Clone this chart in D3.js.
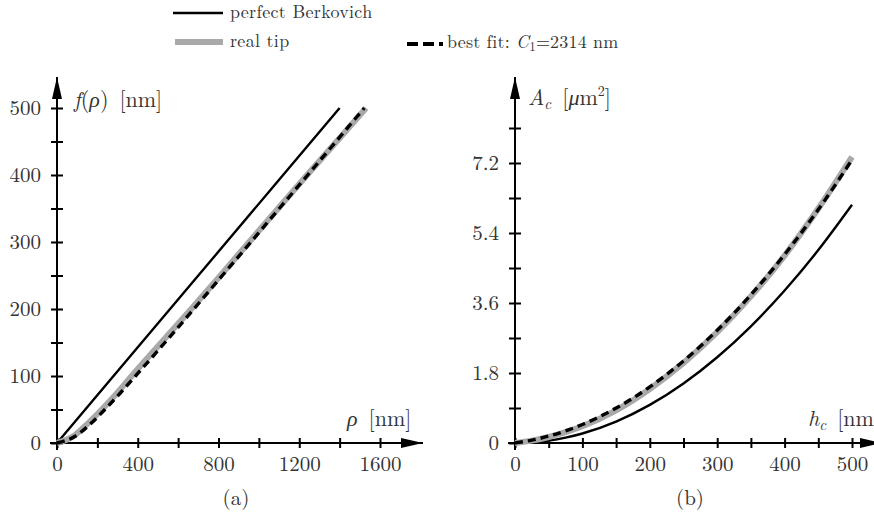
<!DOCTYPE html>
<html>
<head>
<meta charset="utf-8">
<script src="https://cdn.jsdelivr.net/npm/d3@7"></script>
<style>
  html, body { margin: 0; padding: 0; background: #fff; }
  svg { display: block; }
</style>
</head>
<body>
<svg id="chart" width="874" height="521"></svg>
<script>
// ---- (a) tip shape function f(rho) ----
const rhoTickValues = [0, 200, 400, 600, 800, 1000, 1200, 1400, 1600];
const rhoTickLabels = ["0", "", "400", "", "800", "", "1200", "", "1600"];
const fTickValues = [0, 50, 100, 150, 200, 250, 300, 350, 400, 450, 500];
const fTickLabels = ["0", "", "100", "", "200", "", "300", "", "400", "", "500"];

const berkovichRho = [0, 700, 1400];
const berkovichF = [0, 250, 500];
const realTipRho = [0, 80, 138, 222, 299, 370, 517, 665, 810, 952, 1095, 1239, 1385, 1531];
const realTipF = [0, 10, 25, 50, 75, 100, 150, 200, 250, 300, 350, 400, 450, 500];
const fitRho = [0, 90, 153, 237, 315, 389, 535, 678, 819, 961, 1101, 1242, 1382, 1522];
const fitF = [0, 10, 25, 50, 75, 100, 150, 200, 250, 300, 350, 400, 450, 500];

// ---- (b) contact area A_c(h_c) ----
const hTickValues = [0, 50, 100, 150, 200, 250, 300, 350, 400, 450, 500];
const hTickLabels = ["0", "", "100", "", "200", "", "300", "", "400", "", "500"];
const aTickValues = [0, 0.9, 1.8, 2.7, 3.6, 4.5, 5.4, 6.3, 7.2, 8.1];
const aTickLabels = ["0", "", "1.8", "", "3.6", "", "5.4", "", "7.2", ""];

const depthH = [0, 25, 50, 75, 100, 150, 200, 250, 300, 350, 400, 450, 500];
const berkovichArea = [0, 0.015, 0.061, 0.138, 0.245, 0.551, 0.98, 1.531, 2.205, 3.001, 3.92, 4.961, 6.125];
const realTipArea = [0, 0.06, 0.155, 0.28, 0.43, 0.84, 1.39, 2.06, 2.85, 3.77, 4.82, 6.03, 7.36];
const fitArea = [0, 0.073, 0.177, 0.311, 0.476, 0.898, 1.443, 2.11, 2.899, 3.811, 4.846, 6.002, 7.282];

const FONT = '"Latin Modern Roman", "Liberation Serif", serif';
const GREEK = '"Liberation Serif", serif';
const INK = "#333";

const svg = d3.select("#chart");
svg.append("rect").attr("width", 874).attr("height", 521).attr("fill", "#fff");

const defs = svg.append("defs");
defs.append("marker")
  .attr("id", "arrow")
  .attr("viewBox", "0 0 22 10")
  .attr("refX", 22).attr("refY", 5)
  .attr("markerWidth", 22).attr("markerHeight", 10)
  .attr("markerUnits", "userSpaceOnUse")
  .attr("orient", "auto")
  .append("path").attr("d", "M0,0 L22,5 L0,10 Z").attr("fill", "#000");

const styles = {
  berkovich: { stroke: "#000", width: 2.4, dash: null },
  real: { stroke: "#a9a9a9", width: 6, dash: null },
  fit: { stroke: "#000", width: 3.4, dash: "8,5" }
};

function zip(xs, ys) { return xs.map((x, i) => [x, ys[i]]); }

function drawPanel(cfg) {
  const g = svg.append("g");
  const x = d3.scaleLinear().domain(cfg.xDomain).range(cfg.xRange);
  const y = d3.scaleLinear().domain(cfg.yDomain).range(cfg.yRange);
  const x0 = x(0), y0 = y(0);

  // axis lines with arrow heads
  g.append("line").attr("x1", cfg.xStart).attr("x2", cfg.xEnd).attr("y1", y0).attr("y2", y0)
    .attr("stroke", "#000").attr("stroke-width", 2).attr("marker-end", "url(#arrow)");
  g.append("line").attr("x1", x0).attr("x2", x0).attr("y1", cfg.yStart).attr("y2", cfg.yEnd)
    .attr("stroke", "#000").attr("stroke-width", 2).attr("marker-end", "url(#arrow)");

  // bottom axis: crossing ticks, labels on alternate ticks
  const xa = g.append("g").attr("transform", `translate(0,${y0})`)
    .call(d3.axisBottom(x).tickValues(cfg.xTicks)
      .tickFormat((d, i) => cfg.xLabels[i]).tickSize(5).tickPadding(8));
  xa.select(".domain").remove();
  xa.selectAll(".tick line").attr("y1", -5).attr("y2", 5).attr("stroke", "#000").attr("stroke-width", 2);
  xa.selectAll(".tick text").style("font-size", "21px").style("font-family", FONT).style("fill", INK);

  const ya = g.append("g").attr("transform", `translate(${x0},0)`)
    .call(d3.axisLeft(y).tickValues(cfg.yTicks)
      .tickFormat((d, i) => cfg.yLabels[i]).tickSize(5).tickPadding(11));
  ya.select(".domain").remove();
  ya.selectAll(".tick line").attr("x1", -6).attr("x2", 6).attr("stroke", "#000").attr("stroke-width", 2);
  ya.selectAll(".tick text").style("font-size", "21px").style("font-family", FONT).style("fill", INK);

  const line = d3.line().x(d => x(d[0])).y(d => y(d[1])).curve(d3.curveMonotoneX);
  cfg.series.forEach(s => {
    const st = styles[s.style];
    g.append("path").datum(s.data).attr("d", line)
      .attr("fill", "none").attr("stroke", st.stroke).attr("stroke-width", st.width)
      .attr("stroke-dasharray", st.dash).attr("stroke-linejoin", "round");
  });
  return g;
}

drawPanel({
  xDomain: [0, 1600], xRange: [57, 380],
  yDomain: [0, 500], yRange: [443, 108],
  xStart: 50, xEnd: 423, yStart: 450, yEnd: 77,
  xTicks: rhoTickValues, xLabels: rhoTickLabels,
  yTicks: fTickValues, yLabels: fTickLabels,
  series: [
    { style: "berkovich", data: zip(berkovichRho, berkovichF) },
    { style: "real", data: zip(realTipRho, realTipF) },
    { style: "fit", data: zip(fitRho, fitF) }
  ]
});

drawPanel({
  xDomain: [0, 500], xRange: [515, 852],
  yDomain: [0, 7.2], yRange: [443, 163],
  xStart: 508, xEnd: 882, yStart: 450, yEnd: 77,
  xTicks: hTickValues, xLabels: hTickLabels,
  yTicks: aTickValues, yLabels: aTickLabels,
  series: [
    { style: "berkovich", data: zip(depthH, berkovichArea) },
    { style: "real", data: zip(depthH, realTipArea) },
    { style: "fit", data: zip(depthH, fitArea) }
  ]
});

// rich text: italic parts, sub/superscripts, Greek letters
function rich(x, y, size, parts, anchor) {
  const t = svg.append("text").attr("x", x).attr("y", y)
    .style("font-size", size + "px").style("font-family", FONT).style("fill", INK)
    .attr("text-anchor", anchor || "start");
  parts.forEach(p => {
    const ts = t.append("tspan").text(p.t);
    if (p.i) ts.style("font-style", "italic");
    if (p.g) ts.style("font-family", GREEK);
    if (p.s) ts.style("font-size", p.s + "px");
    if (p.dy) ts.attr("dy", p.dy);
  });
  return t;
}

rich(74, 107, 22, [{ t: "f", i: 1 }, { t: "(" }, { t: "ρ", i: 1, g: 1 }, { t: ")\u2002[nm]" }]);
rich(347, 426, 22, [{ t: "ρ", i: 1, g: 1 }, { t: "\u2002[nm]" }]);
rich(528, 105, 22, [{ t: "A", i: 1 }, { t: "c", i: 1, s: 15, dy: 4 }, { t: "\u2002[", dy: -4 }, { t: "μ", i: 1, g: 1 }, { t: "m" }, { t: "2", s: 14, dy: -9 }, { t: "]", dy: 9 }]);
rich(808, 426, 22, [{ t: "h", i: 1 }, { t: "c", i: 1, s: 15, dy: 4 }, { t: "\u2002[nm]", dy: -4 }]);

rich(236, 505, 21, [{ t: "(a)" }], "middle");
rich(690, 505, 21, [{ t: "(b)" }], "middle");

// legend
const legend = svg.append("g");
legend.append("line").attr("x1", 173).attr("x2", 223).attr("y1", 13).attr("y2", 13)
  .attr("stroke", styles.berkovich.stroke).attr("stroke-width", 2.4);
legend.append("line").attr("x1", 175).attr("x2", 223).attr("y1", 42).attr("y2", 42)
  .attr("stroke", styles.real.stroke).attr("stroke-width", 6);
legend.append("line").attr("x1", 407).attr("x2", 443).attr("y1", 44).attr("y2", 44)
  .attr("stroke", "#000").attr("stroke-width", 4).attr("stroke-dasharray", "11,5");
rich(230, 18, 18, [{ t: "perfect Berkovich" }]).style("letter-spacing", "0.3px");
rich(230, 47, 18, [{ t: "real tip" }]).style("letter-spacing", "0.3px");
rich(447, 48, 18, [{ t: "best fit: " }, { t: "C", i: 1 }, { t: "1", s: 13, dy: 3 }, { t: "=2314 nm", dy: -3 }]).style("letter-spacing", "0.2px");
</script>
</body>
</html>
